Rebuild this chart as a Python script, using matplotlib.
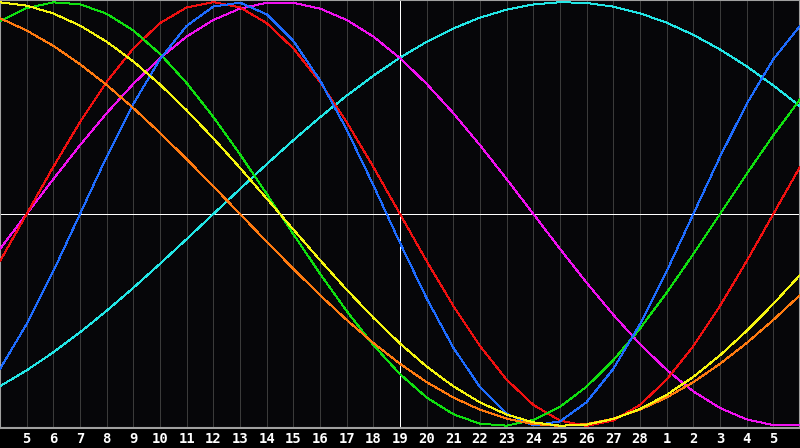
import matplotlib
matplotlib.use('Agg')
import matplotlib.pyplot as plt

# day labels under the grid lines (Feb 5 .. Mar 5)
day_labels = [5, 6, 7, 8, 9, 10, 11, 12, 13, 14, 15, 16, 17, 18, 19,
              20, 21, 22, 23, 24, 25, 26, 27, 28, 1, 2, 3, 4, 5]
today_index = 15

# cycle values read per day, x = 0 .. 30 (left edge to right edge)
red = [-0.2225, 0.0, 0.2225, 0.4339, 0.6235, 0.7818, 0.9010, 0.9749, 1.0, 0.9749,
       0.9010, 0.7818, 0.6235, 0.4339, 0.2225, 0.0, -0.2225, -0.4339, -0.6235, -0.7818,
       -0.9010, -0.9749, -1.0, -0.9749, -0.9010, -0.7818, -0.6235, -0.4339, -0.2225, 0.0,
       0.2225]
blue = [-0.7308, -0.5196, -0.2698, 0.0, 0.2698, 0.5196, 0.7308, 0.8879, 0.9791, 0.9977,
        0.9423, 0.8170, 0.6311, 0.3984, 0.1362, -0.1362, -0.3984, -0.6311, -0.8170, -0.9423,
        -0.9977, -0.9791, -0.8879, -0.7308, -0.5196, -0.2698, 0.0, 0.2698, 0.5196, 0.7308,
        0.8879]
green = [0.9096, 0.9718, 0.9989, 0.9898, 0.9450, 0.8660, 0.7557, 0.6182, 0.4582, 0.2817,
         0.0951, -0.0951, -0.2817, -0.4582, -0.6182, -0.7557, -0.8660, -0.9450, -0.9898, -0.9989,
         -0.9718, -0.9096, -0.8146, -0.6901, -0.5406, -0.3717, -0.1893, 0.0, 0.1893, 0.3717,
         0.5406]
magenta = [-0.1646, 0.0, 0.1646, 0.3247, 0.4759, 0.6142, 0.7357, 0.8372, 0.9158, 0.9694,
           0.9966, 0.9966, 0.9694, 0.9158, 0.8372, 0.7357, 0.6142, 0.4759, 0.3247, 0.1646,
           0.0, -0.1646, -0.3247, -0.4759, -0.6142, -0.7357, -0.8372, -0.9158, -0.9694, -0.9966,
           -0.9966]
yellow = [0.9993, 0.9834, 0.9465, 0.8893, 0.8133, 0.7200, 0.6112, 0.4894, 0.3572, 0.2174,
          0.0730, -0.0730, -0.2174, -0.3572, -0.4894, -0.6112, -0.7200, -0.8133, -0.8893, -0.9465,
          -0.9834, -0.9993, -0.9940, -0.9675, -0.9204, -0.8536, -0.7686, -0.6671, -0.5517, -0.4244,
          -0.2881]
orange = [0.9239, 0.8660, 0.7934, 0.7071, 0.6088, 0.5, 0.3827, 0.2588, 0.1305, 0.0,
          -0.1305, -0.2588, -0.3827, -0.5, -0.6088, -0.7071, -0.7934, -0.8660, -0.9239, -0.9659,
          -0.9914, -1.0, -0.9914, -0.9659, -0.9239, -0.8660, -0.7934, -0.7071, -0.6088, -0.5,
          -0.3827]
cyan = [-0.8126, -0.7378, -0.6528, -0.5586, -0.4566, -0.3482, -0.2349, -0.1183, 0.0, 0.1183,
        0.2349, 0.3482, 0.4566, 0.5586, 0.6528, 0.7378, 0.8126, 0.8759, 0.9267, 0.9646,
        0.9890, 0.9996, 0.9961, 0.9786, 0.9473, 0.9028, 0.8457, 0.7767, 0.6970, 0.6068,
        0.5085]

days = list(range(len(red)))

series = [
    (cyan, "#22e6e6"),
    (magenta, "#f010f0"),
    (red, "#f01010"),
    (green, "#10e010"),
    (blue, "#1e6cff"),
    (orange, "#ff7a10"),
    (yellow, "#f4f410"),
]

fig = plt.figure(figsize=(8, 4.48), dpi=100, facecolor="#000000")
ax = fig.add_axes([0, 20 / 448, 1, 428 / 448])
ax.set_facecolor("#060609")

# vertical day grid
for i in range(1, len(day_labels) + 1):
    if i == today_index:
        continue
    ax.axvline(i, color="#3a3a3a", linewidth=0.7, antialiased=False, zorder=1)
ax.axvline(today_index, color="#ffffff", linewidth=0.7, antialiased=False, zorder=2)
ax.axhline(0, color="#ffffff", linewidth=0.7, antialiased=False, zorder=2)

for vals, col in series:
    ax.plot(days, vals, color=col, linewidth=0.7, antialiased=False, zorder=3)

ax.set_xlim(0, 30)
ax.set_ylim(-1.01, 1.01)

ax.set_yticks([])
ax.set_xticks(range(1, len(day_labels) + 1))
ax.set_xticklabels([str(d) for d in day_labels])
ax.tick_params(axis='x', length=0, pad=3, colors="#ffffff")
for lbl in ax.get_xticklabels():
    lbl.set_fontsize(10)
    lbl.set_fontweight('bold')
    lbl.set_family('DejaVu Sans Mono')

for sp in ax.spines.values():
    sp.set_color("#a0a0a0")
    sp.set_linewidth(1.5)

fig.savefig("out.png", dpi=100, facecolor=fig.get_facecolor())
